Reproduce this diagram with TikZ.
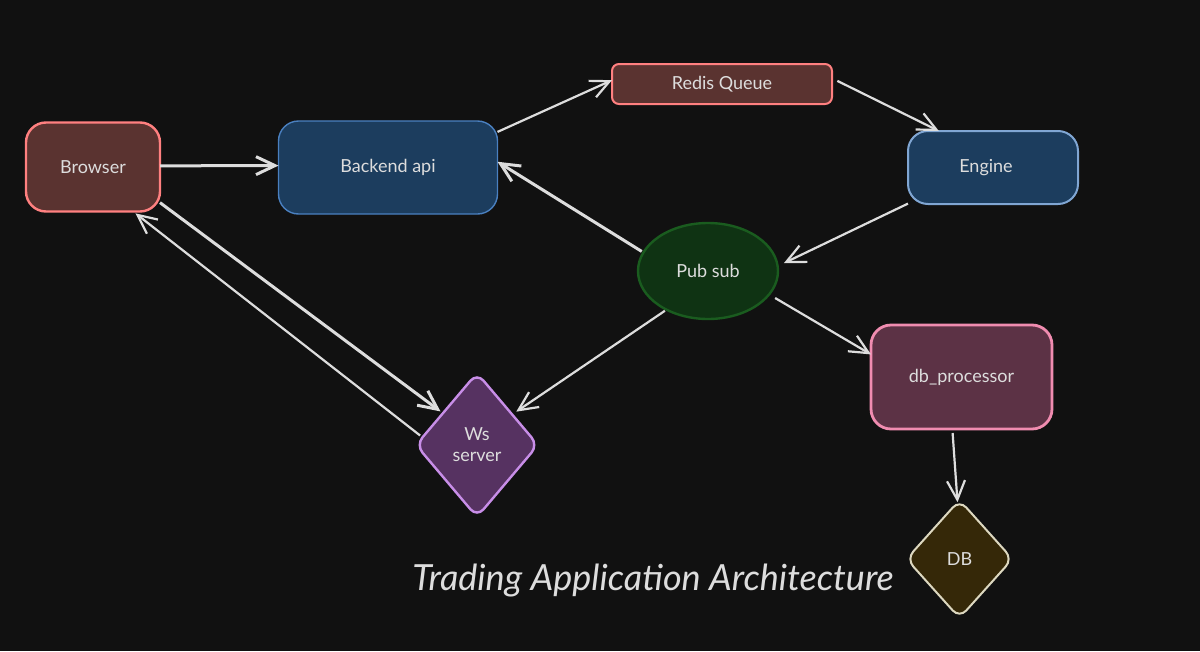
\documentclass[tikz,border=0pt]{standalone}
\usepackage{fontspec}
\setmainfont{Lato}
\usetikzlibrary{arrows.meta, shapes.geometric}

\definecolor{canvas}{HTML}{111111}
\definecolor{wire}{HTML}{DDDDDD}
\definecolor{redfill}{HTML}{5A3330}
\definecolor{redline}{HTML}{FF8080}
\definecolor{bluefill}{HTML}{1C3D5E}
\definecolor{blueline}{HTML}{4A80C0}
\definecolor{greenfill}{HTML}{0F3313}
\definecolor{greenline}{HTML}{1A5C1F}
\definecolor{pinkfill}{HTML}{5C3245}
\definecolor{pinkline}{HTML}{F08CB0}
\definecolor{purplefill}{HTML}{563261}
\definecolor{purpleline}{HTML}{C88EE8}
\definecolor{brownfill}{HTML}{352808}
\definecolor{brownline}{HTML}{DDD8C0}

\tikzset{
    block/.style = {
        draw, rounded corners = 20pt, line width = 2pt, inner sep = 0pt, outer sep = 0pt,
        text = wire, font = \fontsize{18}{21}\selectfont, align = center
    },
    rhomb/.style = {block, diamond, rounded corners = 10pt},
    wires/.style = {draw = wire, line width = 2.2pt, -{Straight Barb[length = 19pt, width = 18pt]}},
    heavy/.style = {line width = 3pt}
}

\begin{document}
\begin{tikzpicture}[x = 1pt, y = -1pt]
    \useasboundingbox [fill = canvas] (0, 0) rectangle (1200, 651);

    \node [block, line width = 2.4pt, draw = redline, fill = redfill, minimum width = 134pt, minimum height = 89pt] (browser) at (93, 167) {Browser};
    \node [block, line width = 1.4pt, draw = blueline, fill = bluefill, minimum width = 219pt, minimum height = 93pt] (backend) at (388, 167.5) {Backend api};
    \node [block, draw = redline, fill = redfill, rounded corners = 7pt, minimum width = 220pt, minimum height = 40pt] (redis) at (722, 84) {Redis Queue};
    \node [block, draw = blueline!70!white, fill = bluefill, minimum width = 170pt, minimum height = 73pt] (engine) at (993, 167.5) {Engine\hspace*{14pt}};
    \node [block, ellipse, line width = 2.4pt, draw = greenline, fill = greenfill, minimum width = 140pt, minimum height = 96pt] (pubsub) at (708, 271) {Pub sub};
    \node [block, line width = 2.8pt, draw = pinkline, fill = pinkfill, minimum width = 181pt, minimum height = 104pt] (processor) at (961.5, 377) {db\_processor};
    \node [rhomb, line width = 2.4pt, draw = purpleline, fill = purplefill, minimum width = 122pt, minimum height = 144pt] (ws) at (477, 445) {Ws\\server};
    \node [rhomb, draw = brownline, fill = brownfill, minimum width = 106pt, minimum height = 118pt] (db) at (959.5, 559) {DB};
    \node [text = wire, font = \fontsize{36}{42}\selectfont\itshape] (title) at (653, 581) {Trading Application Architecture};

    \path [every edge/.style = {wires}]
        (browser.1.7) edge [heavy] (backend.179.7)
        (backend.18.2) edge (redis.178.4)
        (redis.3.9) edge [shorten < = 6pt] (engine.146.7)
        (engine.203.2) edge [shorten > = 7pt] (pubsub.4.5)
        (pubsub.164.5) edge [heavy, shorten < = 2pt] (backend.3.9)
        (pubsub.223.6) edge [shorten < = 2pt, shorten > = 5pt] (ws.41.7)
        (pubsub.-21) edge [shorten < = 7pt] (processor.166)
        (processor.260.4) edge [shorten < = 4pt] (db.92)
        (browser.-28.2) edge [heavy, shorten > = 3pt] (ws.137)
        (ws.172) edge [shorten < = 3pt, shorten > = 3pt] (browser.-48.8)
    ;
\end{tikzpicture}
\end{document}
